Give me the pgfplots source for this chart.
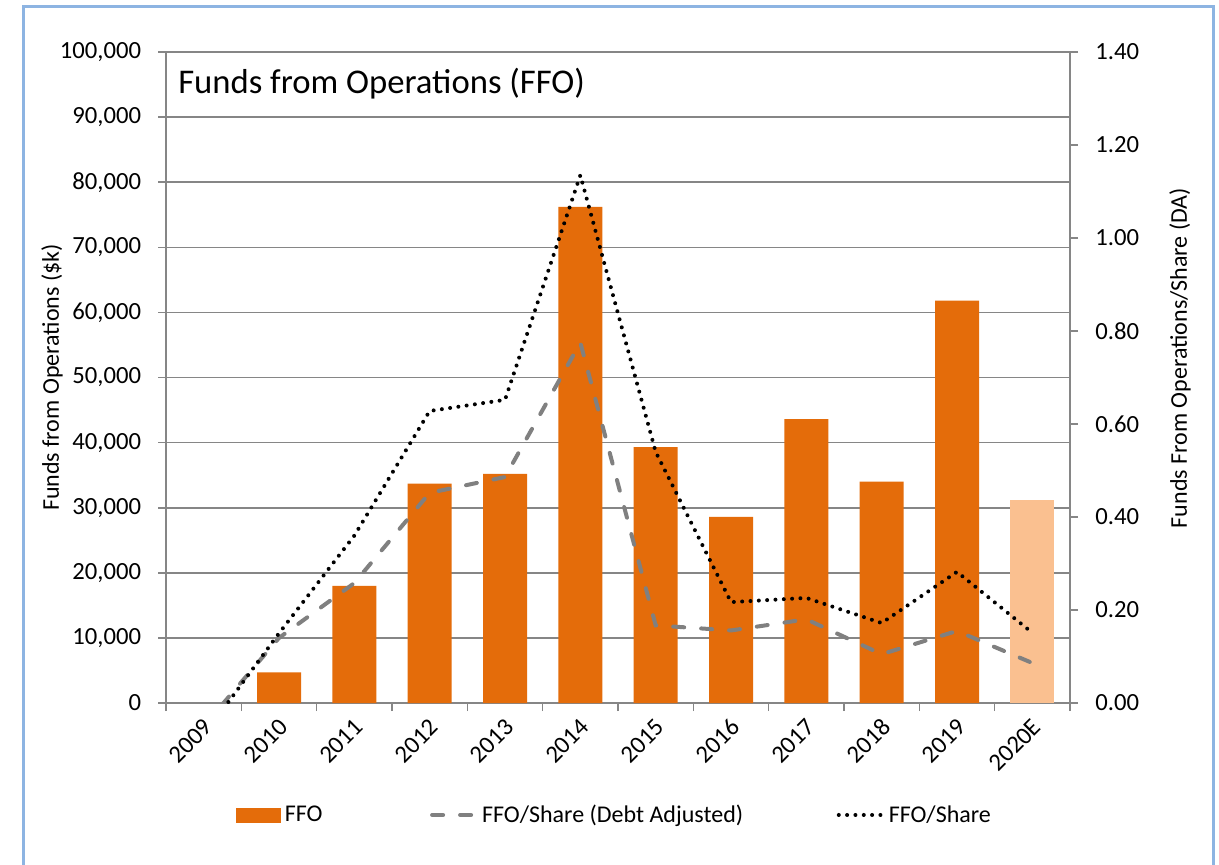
\documentclass[border=0pt]{standalone}
\usepackage{pgfplots}
\pgfplotsset{compat=1.18}
\usepackage{fontspec}
\setmainfont{Carlito}
\definecolor{ffo}{RGB}{228,108,10}
\definecolor{ffolight}{RGB}{250,192,144}
\definecolor{axgray}{RGB}{134,134,134}
\definecolor{dagray}{RGB}{128,128,128}
\definecolor{framec}{RGB}{141,180,226}

\begin{document}
\begin{tikzpicture}
\useasboundingbox (0pt,0pt) rectangle (914.25pt,-648pt);
\fill[white] (0pt,0pt) rectangle (914.25pt,-648pt);
\draw[framec, line width=2.25pt] (17.5pt,-5pt) rectangle (909.75pt,-700pt);

\pgfplotsset{
  base/.style={
    scale only axis, width=678pt, height=488.25pt,
    at={(124.5pt,-527.25pt)}, anchor=south west,
    xmin=-0.5, xmax=11.5,
    tick align=outside,
    major tick length=6pt, minor tick length=6pt,
    tick style={axgray, line width=1.2pt},
    tick label style={font=\fontsize{18.5}{22}\selectfont, text=black, inner sep=0pt},
    axis line style={axgray, line width=1.2pt, -},
  }
}

\begin{axis}[base,
  axis x line*=bottom, axis y line*=left,
  ymin=0, ymax=100000,
  ytick={0,10000,...,100000},
  scaled y ticks=false,
  /pgf/number format/fixed, /pgf/number format/1000 sep={,},
  /pgf/number format/assume math mode=true,
  yticklabel style={anchor=east, xshift=-12.5pt},
  xtick={0,...,11},
  xticklabels={2009,2010,2011,2012,2013,2014,2015,2016,2017,2018,2019,2020E},
  major x tick style={draw=none},
  minor xtick={-0.5,0.5,...,11.5},
  minor x tick style={axgray, line width=1.2pt},
  xticklabel style={xshift=3.5pt, yshift=-9pt, rotate=45, anchor=east},
  ymajorgrids,
  grid style={axgray, line width=1.2pt},
  ylabel={Funds from Operations (\$k)},
  every axis y label/.style={at={(axis description cs:-0.126,0.5)}, rotate=90, anchor=center, font=\fontsize{18}{21.6}\selectfont},
]
\addplot[ybar, bar width=33pt, bar shift=0pt, fill=ffo, draw=none] coordinates {
(1,4700) (2,18000) (3,33700) (4,35200) (5,76200) (6,39300) (7,28600) (8,43600) (9,34000) (10,61800)
};
\addplot[ybar, bar width=33pt, bar shift=0pt, fill=ffolight, draw=none] coordinates {
(11,31200)
};
\node[anchor=base west, inner sep=0pt, font=\fontsize{26}{31}\selectfont] at (axis description cs:0.0133,0.937) {Funds from Operations (FFO)};
\end{axis}

\begin{axis}[base,
  axis x line=none, axis y line*=right,
  ymin=0, ymax=1.4,
  ytick={0,0.2,0.4,0.6,0.8,1.0,1.2,1.4},
  /pgf/number format/fixed, /pgf/number format/fixed zerofill,
  /pgf/number format/precision=2,
  /pgf/number format/assume math mode=true,
  yticklabel style={anchor=west, xshift=12.75pt},
  ylabel={Funds From Operations/Share (DA)},
  every axis y label/.style={at={(axis description cs:1.1217,0.53)}, rotate=90, anchor=center, font=\fontsize{18}{21.6}\selectfont},
  legend columns=3,
  legend style={at={(axis description cs:0.0774,-0.172)}, anchor=west, draw=none, fill=none, inner sep=0pt,
    nodes={inner sep=0pt, font=\fontsize{18}{21.6}\selectfont},
    cells={anchor=west},
    /tikz/every odd column/.style={column sep=3pt},
    /tikz/every even column/.style={column sep=0pt}},
  legend image code/.code={\draw[#1] (0pt,0pt) -- (33pt,0pt);},
]
\addlegendimage{legend image code/.code={\fill[ffo] (0pt,-5.25pt) rectangle (33pt,5.25pt);}}
\addlegendentry{\makebox[109pt][l]{FFO}}
\addplot[dagray, line width=3pt, line cap=round, dash pattern=on 8.25pt off 12.75pt, mark=none] coordinates {
(0,-0.05) (1,0.14) (2,0.258) (3,0.452) (4,0.486) (5,0.775) (6,0.167) (7,0.156) (8,0.18) (9,0.105) (10,0.155) (11,0.086)
};
\addlegendentry{\makebox[266pt][l]{FFO/Share (Debt Adjusted)}}
\addplot[black, line width=3pt, line cap=round, dash pattern=on 0pt off 6.25pt, mark=none] coordinates {
(0,-0.07) (1,0.15) (2,0.36) (3,0.628) (4,0.652) (5,1.135) (6,0.54) (7,0.217) (8,0.226) (9,0.172) (10,0.282) (11,0.151)
};
\addlegendentry{FFO/Share}
\end{axis}
\end{tikzpicture}
\end{document}
